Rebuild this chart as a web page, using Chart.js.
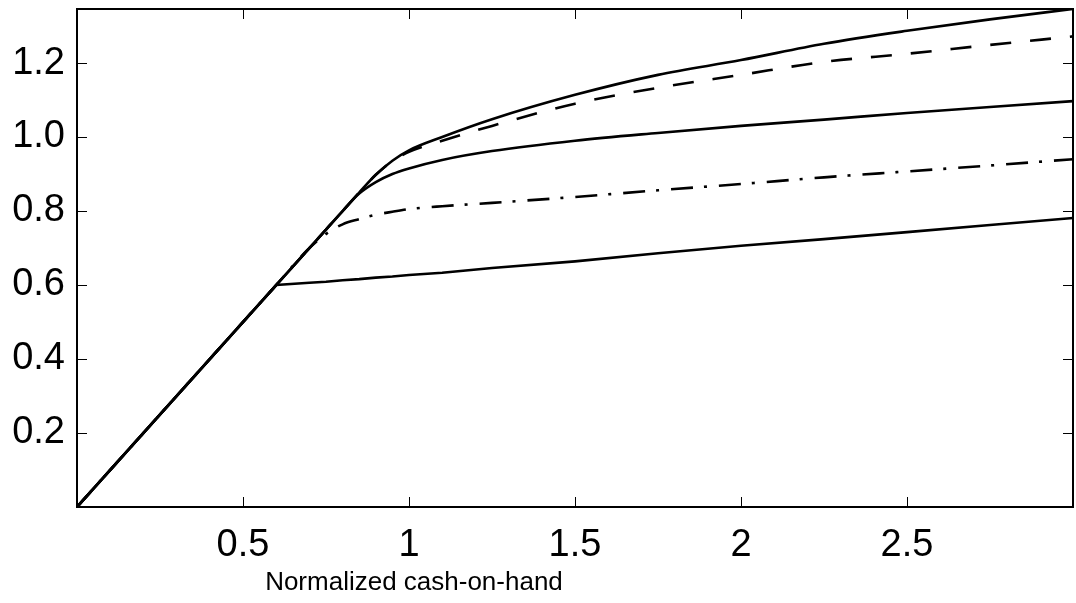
<!DOCTYPE html>
<html>
<head>
<meta charset="utf-8">
<script src="https://cdn.jsdelivr.net/npm/chart.js@4"></script>
<style>
  html, body { margin: 0; padding: 0; background: #fff; }
  #wrap { width: 1076px; height: 603px; }
</style>
</head>
<body>
<div id="wrap"><canvas id="lineChart"></canvas></div>
<script>
// normalized cash-on-hand grid
var xs =          [0, 0.6, 0.7, 0.75, 0.8, 0.85, 0.9, 0.95, 1, 1.1, 1.25, 1.5, 1.75, 2, 2.25, 2.5, 2.75, 3];
// consumption curves
var topCurve =     [0, 0.6, 0.7, 0.75, 0.8, 0.85, 0.898, 0.936, 0.964, 1.0, 1.048, 1.114, 1.168, 1.208, 1.252, 1.287, 1.318, 1.346];
var dashedCurve =  [0, 0.6, 0.7, 0.75, 0.8, 0.85, 0.898, 0.935, 0.96, 0.99, 1.03, 1.09, 1.133, 1.168, 1.203, 1.225, 1.249, 1.272];
var middleCurve =  [0, 0.6, 0.7, 0.75, 0.8, 0.847, 0.878, 0.9, 0.915, 0.938, 0.962, 0.99, 1.011, 1.03, 1.047, 1.065, 1.081, 1.097];
var dashDotCurve = [0, 0.6, 0.7, 0.738, 0.764, 0.778, 0.79, 0.798, 0.805, 0.813, 0.822, 0.838, 0.856, 0.873, 0.891, 0.907, 0.923, 0.94];
var bottomCurve =  [0, 0.6, 0.606, 0.609, 0.613, 0.616, 0.62, 0.623, 0.627, 0.633, 0.646, 0.664, 0.686, 0.706, 0.724, 0.743, 0.762, 0.781];

var xTicks = [0.5, 1, 1.5, 2, 2.5];
var yTicks = [0.2, 0.4, 0.6, 0.8, 1.0, 1.2];
var xTitle = 'Normalized cash-on-hand';
var font = 'Liberation Sans, Arial, sans-serif';

function pts(ys){
  return xs.map(function(x, i){ return {x: x, y: ys[i]}; });
}

function series(ys, dash, smooth){
  return {
    data: pts(ys),
    borderColor: '#000',
    borderWidth: 2.6,
    borderDash: dash,
    pointRadius: 0,
    cubicInterpolationMode: smooth ? 'monotone' : 'default',
    tension: 0,
    fill: false
  };
}

// box round the plot, inward tick marks on all four sides, axis label
var framePlugin = {
  id: 'frame',
  afterDraw: function(chart){
    var ctx = chart.ctx;
    var a = chart.chartArea;
    var sx = chart.scales.x;
    var sy = chart.scales.y;
    ctx.save();
    ctx.strokeStyle = '#000';
    ctx.lineWidth = 1;
    xTicks.forEach(function(v){
      var px = Math.round(sx.getPixelForValue(v)) + 0.5;
      ctx.beginPath();
      ctx.moveTo(px, a.bottom); ctx.lineTo(px, a.bottom - 10);
      ctx.moveTo(px, a.top); ctx.lineTo(px, a.top + 10);
      ctx.stroke();
    });
    yTicks.forEach(function(v){
      var py = Math.round(sy.getPixelForValue(v)) + 0.5;
      ctx.beginPath();
      ctx.moveTo(a.left, py); ctx.lineTo(a.left + 10, py);
      ctx.moveTo(a.right, py); ctx.lineTo(a.right - 10, py);
      ctx.stroke();
    });
    ctx.lineWidth = 2;
    ctx.strokeRect(a.left, a.top, a.right - a.left, a.bottom - a.top);

    ctx.fillStyle = '#000';
    ctx.font = '26px ' + font;
    ctx.textAlign = 'center';
    ctx.textBaseline = 'middle';
    ctx.fillText(xTitle, sx.getPixelForValue(1.015), a.bottom + 76);
    ctx.restore();
  }
};

const ctx = document.getElementById('lineChart');

new Chart(ctx, {
  type: 'line',
  data: {
    datasets: [
      series(topCurve, [], true),
      series(dashedCurve, [21, 19], true),
      series(middleCurve, [], true),
      series(dashDotCurve, [22, 11, 3, 12], true),
      series(bottomCurve, [], false)
    ]
  },
  options: {
    responsive: true,
    maintainAspectRatio: false,
    animation: false,
    layout: { padding: { top: 9, right: 3, left: 0, bottom: 0 } },
    plugins: {
      legend: { display: false },
      tooltip: { enabled: false }
    },
    scales: {
      x: {
        type: 'linear',
        min: 0,
        max: 3,
        afterBuildTicks: function(scale){
          scale.ticks = xTicks.map(function(v){ return {value: v}; });
        },
        afterFit: function(scale){
          scale.height = 96;
          scale.paddingLeft = 0;
          scale.paddingRight = 0;
        },
        grid: { display: false, drawTicks: false },
        border: { display: false },
        ticks: {
          color: '#000',
          padding: 16,
          maxRotation: 0,
          font: { family: font, size: 38 },
          callback: function(v){ return String(v); }
        }
      },
      y: {
        type: 'linear',
        min: 0,
        max: 1.346,
        afterBuildTicks: function(scale){
          scale.ticks = yTicks.map(function(v){ return {value: v}; });
        },
        afterFit: function(scale){
          scale.width = 77;
          scale.paddingTop = 0;
          scale.paddingBottom = 0;
        },
        grid: { display: false, drawTicks: false },
        border: { display: false },
        ticks: {
          color: '#000',
          padding: 12,
          font: { family: font, size: 38 },
          callback: function(v){ return v.toFixed(1); }
        }
      }
    }
  },
  plugins: [framePlugin]
});
</script>
</body>
</html>
